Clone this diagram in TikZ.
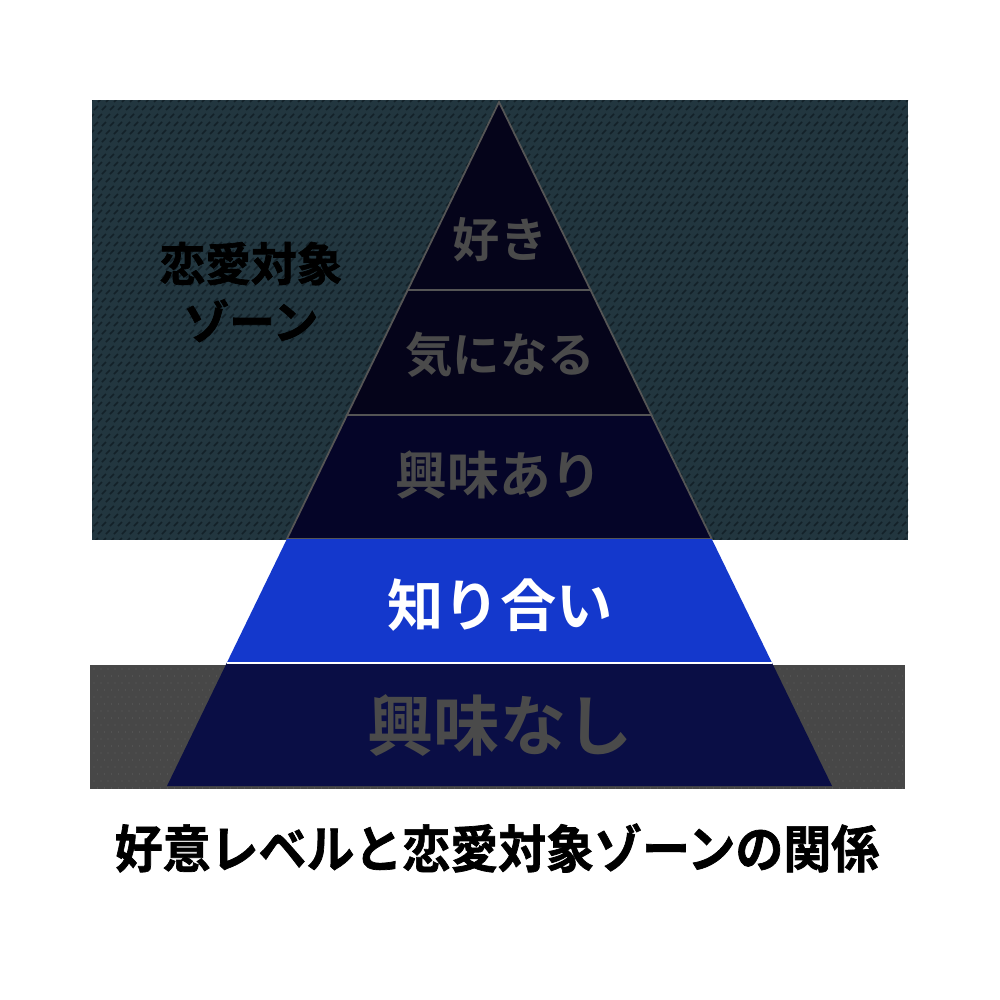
\documentclass[tikz,border=0pt]{standalone}
\usepackage{fontspec}
\newfontfamily\jpfont{Noto Sans CJK JP}[BoldFont={Noto Sans CJK JP Bold}]
\newfontfamily\jpheavy{Noto Sans CJK JP Bold}[FakeBold=1.4]
\usetikzlibrary{calc}

\definecolor{zoneteal}{HTML}{22363F}
\definecolor{zonemark}{HTML}{132128}
\definecolor{nonegray}{HTML}{474747}
\definecolor{nonedot}{HTML}{5E5E5E}
\definecolor{toptone}{HTML}{05041A}
\definecolor{midtone}{HTML}{050528}
\definecolor{knowblue}{HTML}{1438CC}
\definecolor{lowtone}{HTML}{0A0E45}
\definecolor{bandline}{HTML}{555555}
\definecolor{labelgray}{HTML}{4A4A4A}

\begin{document}
\begin{tikzpicture}[
      x=0.01cm, y=-0.01cm,
      bandtext/.style={text=labelgray, inner sep=0pt},
      bandedge/.style={draw=bandline, line width=.5pt}]

    % page
    \useasboundingbox (0,0) rectangle (1000,1000);
    \fill[white] (0,0) rectangle (1000,1000);

    % love zone (textured)
    \fill[zoneteal] (92,100) rectangle (908,540);
    \begin{scope}
      \clip (92,100) rectangle (908,539);
      \draw[zonemark, line width=.45pt]
        \foreach \i in {0,...,102} {\foreach \j in {0,...,55} {
          ({92+8*\i+4*mod(\j,2)}, {100+8*\j}) ++(-2,2) -- ++(4,-4)}};
    \end{scope}

    % no interest zone (dotted)
    \fill[nonegray] (90,665) rectangle (905,789);
    \begin{scope}
      \clip (90,665) rectangle (905,789);
      \fill[nonedot]
        \foreach \i in {0,...,116} {\foreach \j in {0,...,17} {
          ({94+7*\i+3.5*mod(\j,2)}, {669+7*\j}) circle (.6)}};
    \end{scope}

    % pyramid corners
    \coordinate (apex) at (499,102);
    \coordinate (bl) at (167,786);
    \coordinate (br) at (832,786);
    \foreach \n/\t in {a/0.2749, b/0.4576, c/0.6389, d/0.8202} {
      \coordinate (l\n) at ($(apex)!\t!(bl)$);
      \coordinate (r\n) at ($(apex)!\t!(br)$);
    }

    % bands, top to bottom
    \filldraw[fill=toptone, bandedge] (apex) -- (ra) -- (la) -- cycle;
    \filldraw[fill=toptone, bandedge] (la) -- (ra) -- (rb) -- (lb) -- cycle;
    \filldraw[fill=midtone, bandedge] (lb) -- (rb) -- (rc) -- (lc) -- cycle;
    \fill[knowblue] (lc) -- (rc) -- (rd) -- (ld) -- cycle;
    \fill[lowtone] (ld) -- (rd) -- (br) -- (bl) -- cycle;
    \draw[white, line width=.5pt] (ld) -- (rd);

    % band labels
    \node[bandtext, font=\jpfont\bfseries\fontsize{13.4}{14}\selectfont] (like) at (500,240) {好き};
    \node[bandtext, font=\jpfont\bfseries\fontsize{13.5}{14}\selectfont] (curious) at (500,355) {気になる};
    \node[bandtext, font=\jpfont\bfseries\fontsize{14.7}{15}\selectfont] (interest) at (499,475) {興味あり};
    \node[bandtext, text=white, font=\jpfont\bfseries\fontsize{16}{17}\selectfont] (known) at (500,605) {知り合い};
    \node[bandtext, font=\jpfont\bfseries\fontsize{18.8}{19}\selectfont] (nointerest) at (500,725) {興味なし};

    % zone label
    \node[inner sep=0pt, align=center, font=\jpheavy\fontsize{13}{16.5}\selectfont] (zone) at (251,292) {恋愛対象\\ゾーン};

    % caption
    \node[inner sep=0pt, font=\jpheavy\fontsize{14.5}{15}\selectfont] (title) at (497,848) {\scalebox{0.94}[1]{好意レベルと恋愛対象ゾーンの関係}};

  \end{tikzpicture}
\end{document}
